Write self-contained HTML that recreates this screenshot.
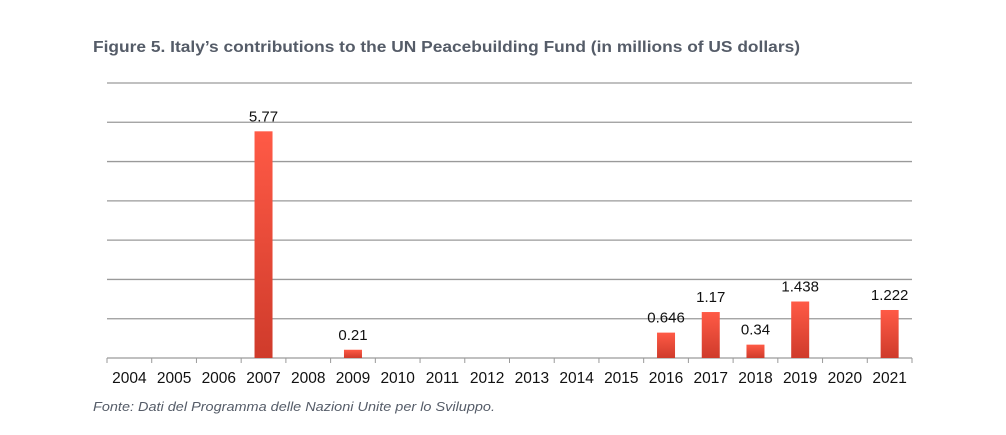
<!DOCTYPE html>
<html><head><meta charset="utf-8"><style>
body{margin:0;background:#fff;width:1006px;height:430px;overflow:hidden;font-family:"Liberation Sans",sans-serif}
</style></head><body>
<svg width="1006" height="430">
<defs><linearGradient id="g" x1="0" y1="0" x2="0" y2="1"><stop offset="0" stop-color="#ff5a46"/><stop offset="1" stop-color="#cf3b2b"/></linearGradient></defs>
<text x="93" y="52" font-size="16" font-weight="bold" fill="#555c68" textLength="707" lengthAdjust="spacingAndGlyphs">Figure 5. Italy’s contributions to the UN Peacebuilding Fund (in millions of US dollars)</text>
<g id="grid"></g><g id="bars"></g><g id="xt"></g>
<text x="93" y="411" font-size="12.5" font-style="italic" fill="#555c68" textLength="402" lengthAdjust="spacingAndGlyphs">Fonte: Dati del Programma delle Nazioni Unite per lo Sviluppo.</text>
</svg>
<script>
const categories=["2004","2005","2006","2007","2008","2009","2010","2011","2012","2013","2014","2015","2016","2017","2018","2019","2020","2021"];
const values=[null,null,null,5.77,null,0.21,null,null,null,null,null,null,0.646,1.17,0.34,1.438,null,1.222];
const labels=["","","","5.77","","0.21","","","","","","","0.646","1.17","0.34","1.438","","1.222"];
const yTicks=[1,2,3,4,5,6,7];
const NS="http://www.w3.org/2000/svg";
const L=107,R=912,B=358,T=83,yMax=7;
const bw=(R-L)/categories.length;
const y=v=>B-(v/yMax)*(B-T);
const x=i=>L+bw*(i+0.5);
function mk(t,a,p){const e=document.createElementNS(NS,t);for(const k in a)e.setAttribute(k,a[k]);document.getElementById(p).appendChild(e);return e;}
yTicks.forEach(v=>{const e=mk('line',{x1:L,x2:R,y1:y(v),y2:y(v),stroke:'#9a9a9a','stroke-width':1.3},'grid');

});
const ax=mk('line',{x1:L,x2:R,y1:B,y2:B,stroke:'#9a9a9a','stroke-width':1.3},'grid');


for(let i=0;i<=categories.length;i++){const t=mk('line',{x1:L+bw*i,x2:L+bw*i,y1:B,y2:B+5,stroke:'#9a9a9a'},'grid');

}
categories.forEach((c,i)=>{const t=mk('text',{x:x(i),y:B+25,'text-anchor':'middle','font-size':15.5,fill:'#111'},'xt');t.textContent=c;


const v=values[i];if(v==null)return;
const r=mk('rect',{x:x(i)-9,y:y(v),width:18,height:B-y(v),fill:'url(#g)'},'bars');


const l=mk('text',{x:x(i),y:y(v)-10,'text-anchor':'middle','font-size':15,fill:'#111'},'bars');l.textContent=labels[i];

});
</script>
</body></html>
